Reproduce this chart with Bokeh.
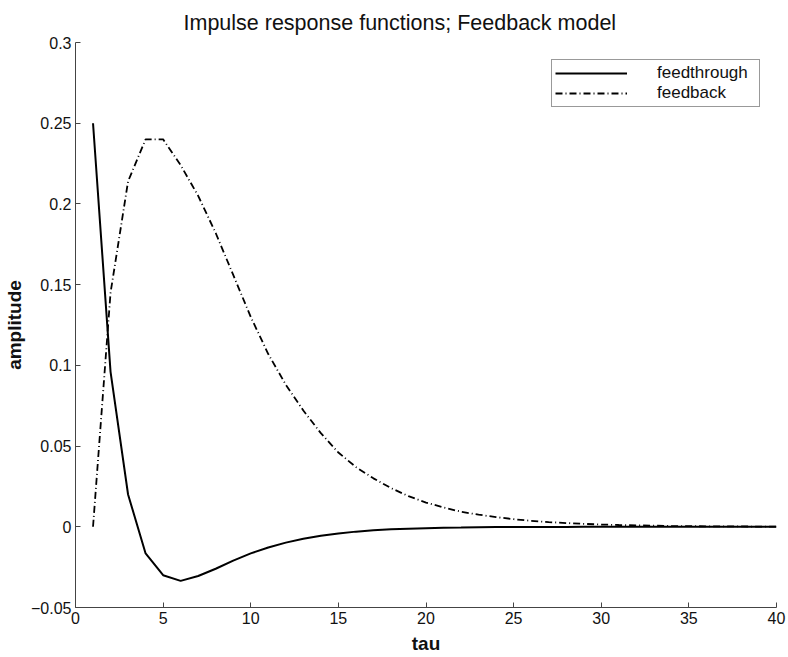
from bokeh.plotting import figure
from bokeh.models import Range1d, FixedTicker, Legend, LegendItem
from bokeh.embed import file_html
from bokeh.resources import INLINE

tau = list(range(1, 41))
feedthrough = [0.25, 0.096, 0.020, -0.0165, -0.030, -0.0335, -0.0305, -0.026, -0.021, -0.0165,
               -0.0128, -0.0098, -0.0074, -0.0055, -0.0041, -0.0030, -0.0022, -0.0016, -0.0012, -0.0009,
               -0.0006, -0.0005, -0.0003, -0.0002, -0.0002, -0.0001, -0.0001, -0.0001, 0.0, 0.0,
               0.0, 0.0, 0.0, 0.0, 0.0, 0.0, 0.0, 0.0, 0.0, 0.0]
feedback = [0.0, 0.145, 0.214, 0.240, 0.240, 0.224, 0.205, 0.182, 0.156, 0.130,
            0.107, 0.088, 0.072, 0.058, 0.046, 0.037, 0.030, 0.024, 0.019, 0.015,
            0.012, 0.0093, 0.0075, 0.006, 0.0047, 0.0037, 0.0029, 0.0023, 0.0018, 0.0014,
            0.0011, 0.0009, 0.0007, 0.0005, 0.0004, 0.0003, 0.0002, 0.0002, 0.0001, 0.0001]

x_ticks = [0, 5, 10, 15, 20, 25, 30, 35, 40]
y_ticks = [-0.05, 0.0, 0.05, 0.1, 0.15, 0.2, 0.25, 0.3]
y_tick_labels = ["\u22120.05", "0", "0.05", "0.1", "0.15", "0.2", "0.25", "0.3"]

FONT = "Liberation Sans"

p = figure(width=788, height=657, output_backend="svg", toolbar_location=None,
           x_range=Range1d(0, 40), y_range=Range1d(-0.05, 0.3),
           min_border_left=75, min_border_right=12, min_border_top=42, min_border_bottom=50)
p.frame_width = 701
p.frame_height = 565

p.title.text = "Impulse response functions; Feedback model"
p.title.text_font = FONT
p.title.text_font_size = "21.5px"
p.title.text_font_style = "normal"
p.title.align = "left"
p.title.offset = 108
p.title.standoff = 15
p.title.text_color = "#111111"

p.outline_line_color = None
p.xgrid.visible = False
p.ygrid.visible = False

for ax in (p.xaxis[0], p.yaxis[0]):
    ax.major_tick_in = 5
    ax.major_tick_out = 0
    ax.minor_tick_line_color = None
    ax.axis_line_color = "#444444"
    ax.major_tick_line_color = "#444444"
    ax.major_label_text_font = FONT
    ax.major_label_text_font_size = "16px"
    ax.major_label_text_color = "#111111"
    ax.major_label_standoff = 4
    ax.axis_label_text_font = FONT
    ax.axis_label_text_font_size = "19px"
    ax.axis_label_text_font_style = "bold"
    ax.axis_label_text_color = "#111111"

p.xaxis[0].ticker = FixedTicker(ticks=x_ticks)
p.yaxis[0].ticker = FixedTicker(ticks=y_ticks)
p.yaxis[0].major_label_overrides = dict(zip(y_ticks, y_tick_labels))
p.xaxis[0].axis_label = "tau"
p.yaxis[0].axis_label = "amplitude"
p.xaxis[0].axis_label_standoff = 6
p.yaxis[0].axis_label_standoff = 3

r1 = p.line(tau, feedthrough, line_color="black", line_width=2)
r2 = p.line(tau, feedback, line_color="black", line_width=1.8, line_dash="7 3 1 3")

legend = Legend(items=[LegendItem(label="feedthrough", renderers=[r1]),
                       LegendItem(label="feedback", renderers=[r2])],
                location=(476, 500))
legend.label_text_font = FONT
legend.label_text_font_size = "17px"
legend.label_text_color = "#111111"
legend.label_height = 16
legend.glyph_height = 16
legend.glyph_width = 72
legend.label_standoff = 30
legend.label_width = 99
legend.spacing = 0
legend.padding = 3
legend.margin = 0
legend.border_line_color = "#333333"
legend.border_line_width = 1
legend.background_fill_alpha = 1
p.add_layout(legend, "center")

open("out.html", "w").write(file_html(p, INLINE))
